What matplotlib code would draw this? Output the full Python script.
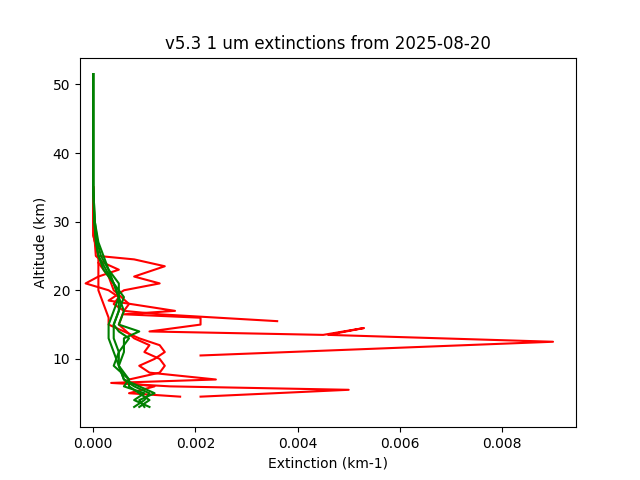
import matplotlib
matplotlib.use("Agg")
import matplotlib.pyplot as plt

# red profiles: (altitude km, extinction km-1)
red_alt = [
    [35, 30, 25, 24, 23, 22, 21, 20, 19, 18, 17, 16.5, 15.5],
    [35, 28, 25, 24.5, 23.5, 22, 21, 20, 18.5, 17, 16.5, 16, 15, 14, 13.5, 14.5, 13.5, 12.5, 10.5],
    [35, 28, 25, 23, 20, 18, 16, 15, 14, 13, 12, 11, 10, 9, 8, 7, 6.5, 6, 5.5, 4.5],
    [24, 22, 20, 18, 17, 15, 13, 12, 11, 10, 9, 8, 7, 6.5, 6, 5, 4.5],
]
red_ext = [
    [0, 0, 0.00005, 0.0002, 0.0005, 0.0001, -0.00015, 0.0003, 0.0005, 0.0004, 0.0006, 0.0013, 0.0036],
    [0, 0, 0.0001, 0.0008, 0.0014, 0.0008, 0.0013, 0.0006, 0.0003, 0.0016, 0.0006, 0.0021, 0.0021,
     0.0011, 0.0045, 0.0053, 0.0046, 0.0090, 0.0021],
    [0, 0, 0.0001, 0.0001, 0.0001, 0.0002, 0.0003, 0.0003, 0.0006, 0.0009, 0.0013, 0.0014, 0.0012,
     0.0009, 0.0011, 0.0024, 0.00035, 0.0015, 0.0050, 0.0021],
    [0.0001, 0.0003, 0.0004, 0.0007, 0.0006, 0.0005, 0.0008, 0.0011, 0.0010, 0.0013, 0.0014, 0.0013,
     0.0007, 0.0006, 0.0012, 0.0007, 0.0017],
]

green_alt = [51.5, 45, 40, 35, 30, 27, 25, 23, 21, 19, 17, 15, 14, 13, 11, 9, 7, 6, 5, 4, 3]
green_ext = [
    [0, 0, 0, 0, 0.00002, 0.00005, 0.0001, 0.0002, 0.0004, 0.0005, 0.0004, 0.0003, 0.0003, 0.0003, 0.0004, 0.0005, 0.0006, 0.0008, 0.0011, 0.0010, 0.0008],
    [0, 0, 0, 0, 0.00003, 0.0001, 0.0002, 0.0003, 0.0004, 0.0005, 0.0005, 0.0004, 0.0004, 0.0004, 0.0005, 0.0004, 0.0007, 0.0007, 0.0009, 0.0011, 0.0009],
    [0, 0, 0, 0, 0.00003, 0.00008, 0.00015, 0.0003, 0.0005, 0.0005, 0.0006, 0.0005, 0.0009, 0.0006, 0.0006, 0.0005, 0.0006, 0.0009, 0.0012, 0.0009, 0.0010],
    [0, 0, 0, 0, 0.00002, 0.00006, 0.0001, 0.00025, 0.0004, 0.0006, 0.0005, 0.0004, 0.0005, 0.0007, 0.0005, 0.0005, 0.0007, 0.0006, 0.0010, 0.0008, 0.0011],
]

fig, ax = plt.subplots(figsize=(6.4, 4.8), dpi=100)
for a, e in zip(red_alt, red_ext):
    ax.plot(e, a, color="red")
for e in green_ext:
    ax.plot(e, green_alt, color="green")

ax.set_xlim(-0.00026, 0.00945)
ax.set_ylim(0.05, 53.9)
ax.set_xlabel("Extinction (km-1)")
ax.set_ylabel("Altitude (km)")
ax.set_title("v5.3 1 um extinctions from 2025-08-20")
fig.savefig("out.png")
